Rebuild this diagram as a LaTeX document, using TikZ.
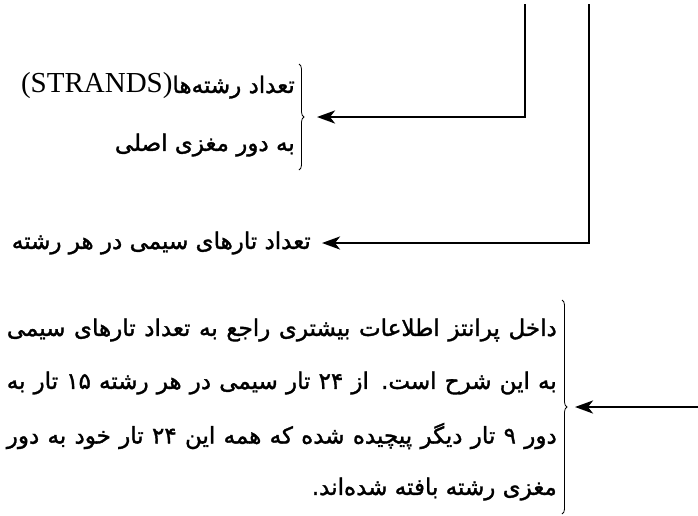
\documentclass[tikz,border=0pt]{standalone}
\usepackage{fontspec}
\TeXXeTstate=1
\newfontfamily\fa[Script=Arabic,FakeBold=1.4]{DejaVu Sans}
\newfontfamily\lat{Liberation Serif}
\usetikzlibrary{arrows.meta,decorations.pathreplacing}
\begin{document}
\begin{tikzpicture}[x=1pt,y=-1pt,
  conn/.style={line width=2.6pt,-{Stealth[length=18pt,width=13pt,inset=5pt]}},
  bracket/.style={decorate,decoration={brace,amplitude=5pt},line width=0.8pt},
  txt/.style={inner sep=0pt,anchor=east,font=\fa\fontsize{23}{26}\selectfont}]
\useasboundingbox (0,0) rectangle (698,515);
% top ends of the two vertical connectors
\coordinate (t1) at (525,4);
\coordinate (t2) at (589,4);
\coordinate (r3) at (698,407);
% text block 1
\node[txt] (a1) at (295,86) {\beginR تعداد رشته^^^^200cها\beginL{\lat\fontsize{29}{30}\selectfont(STRANDS)}\endL\endR};
\node[txt] (a2) at (295,145) {\beginR به دور مغزی اصلی\endR};
\draw[bracket] (299,64) -- (299,170) coordinate[midway,xshift=18pt] (b1);
% text 2
\node[txt] (c1) at (311,243) {\beginR تعداد تارهای سیمی در هر رشته\endR};
\coordinate (b2) at (322,243);
% paragraph
\node[txt] (p1) at (557,330) {\hbox to 550pt{\beginR داخل پرانتز اطلاعات بیشتری راجع به تعداد تارهای سیمی\endR}};
\node[txt] (p2) at (557,383) {\hbox to 550pt{\beginR به این شرح است. از \beginL ۲۴\endL{} تار سیمی در هر رشته \beginL ۱۵\endL{} تار به\endR}};
\node[txt] (p3) at (557,436) {\hbox to 550pt{\beginR دور ۹ تار دیگر پیچیده شده که همه این \beginL ۲۴\endL{} تار خود به دور\endR}};
\node[txt] (p4) at (557,489) {\beginR مغزی رشته بافته شده^^^^200cاند.\endR};
\draw[bracket] (562,300) -- (562,514) coordinate[midway,xshift=13pt] (b3);
% connectors
\draw[conn] (t1) |- (b1);
\draw[conn] (t2) |- (b2);
\draw[conn] (r3) -- (b3);
\end{tikzpicture}
\end{document}
